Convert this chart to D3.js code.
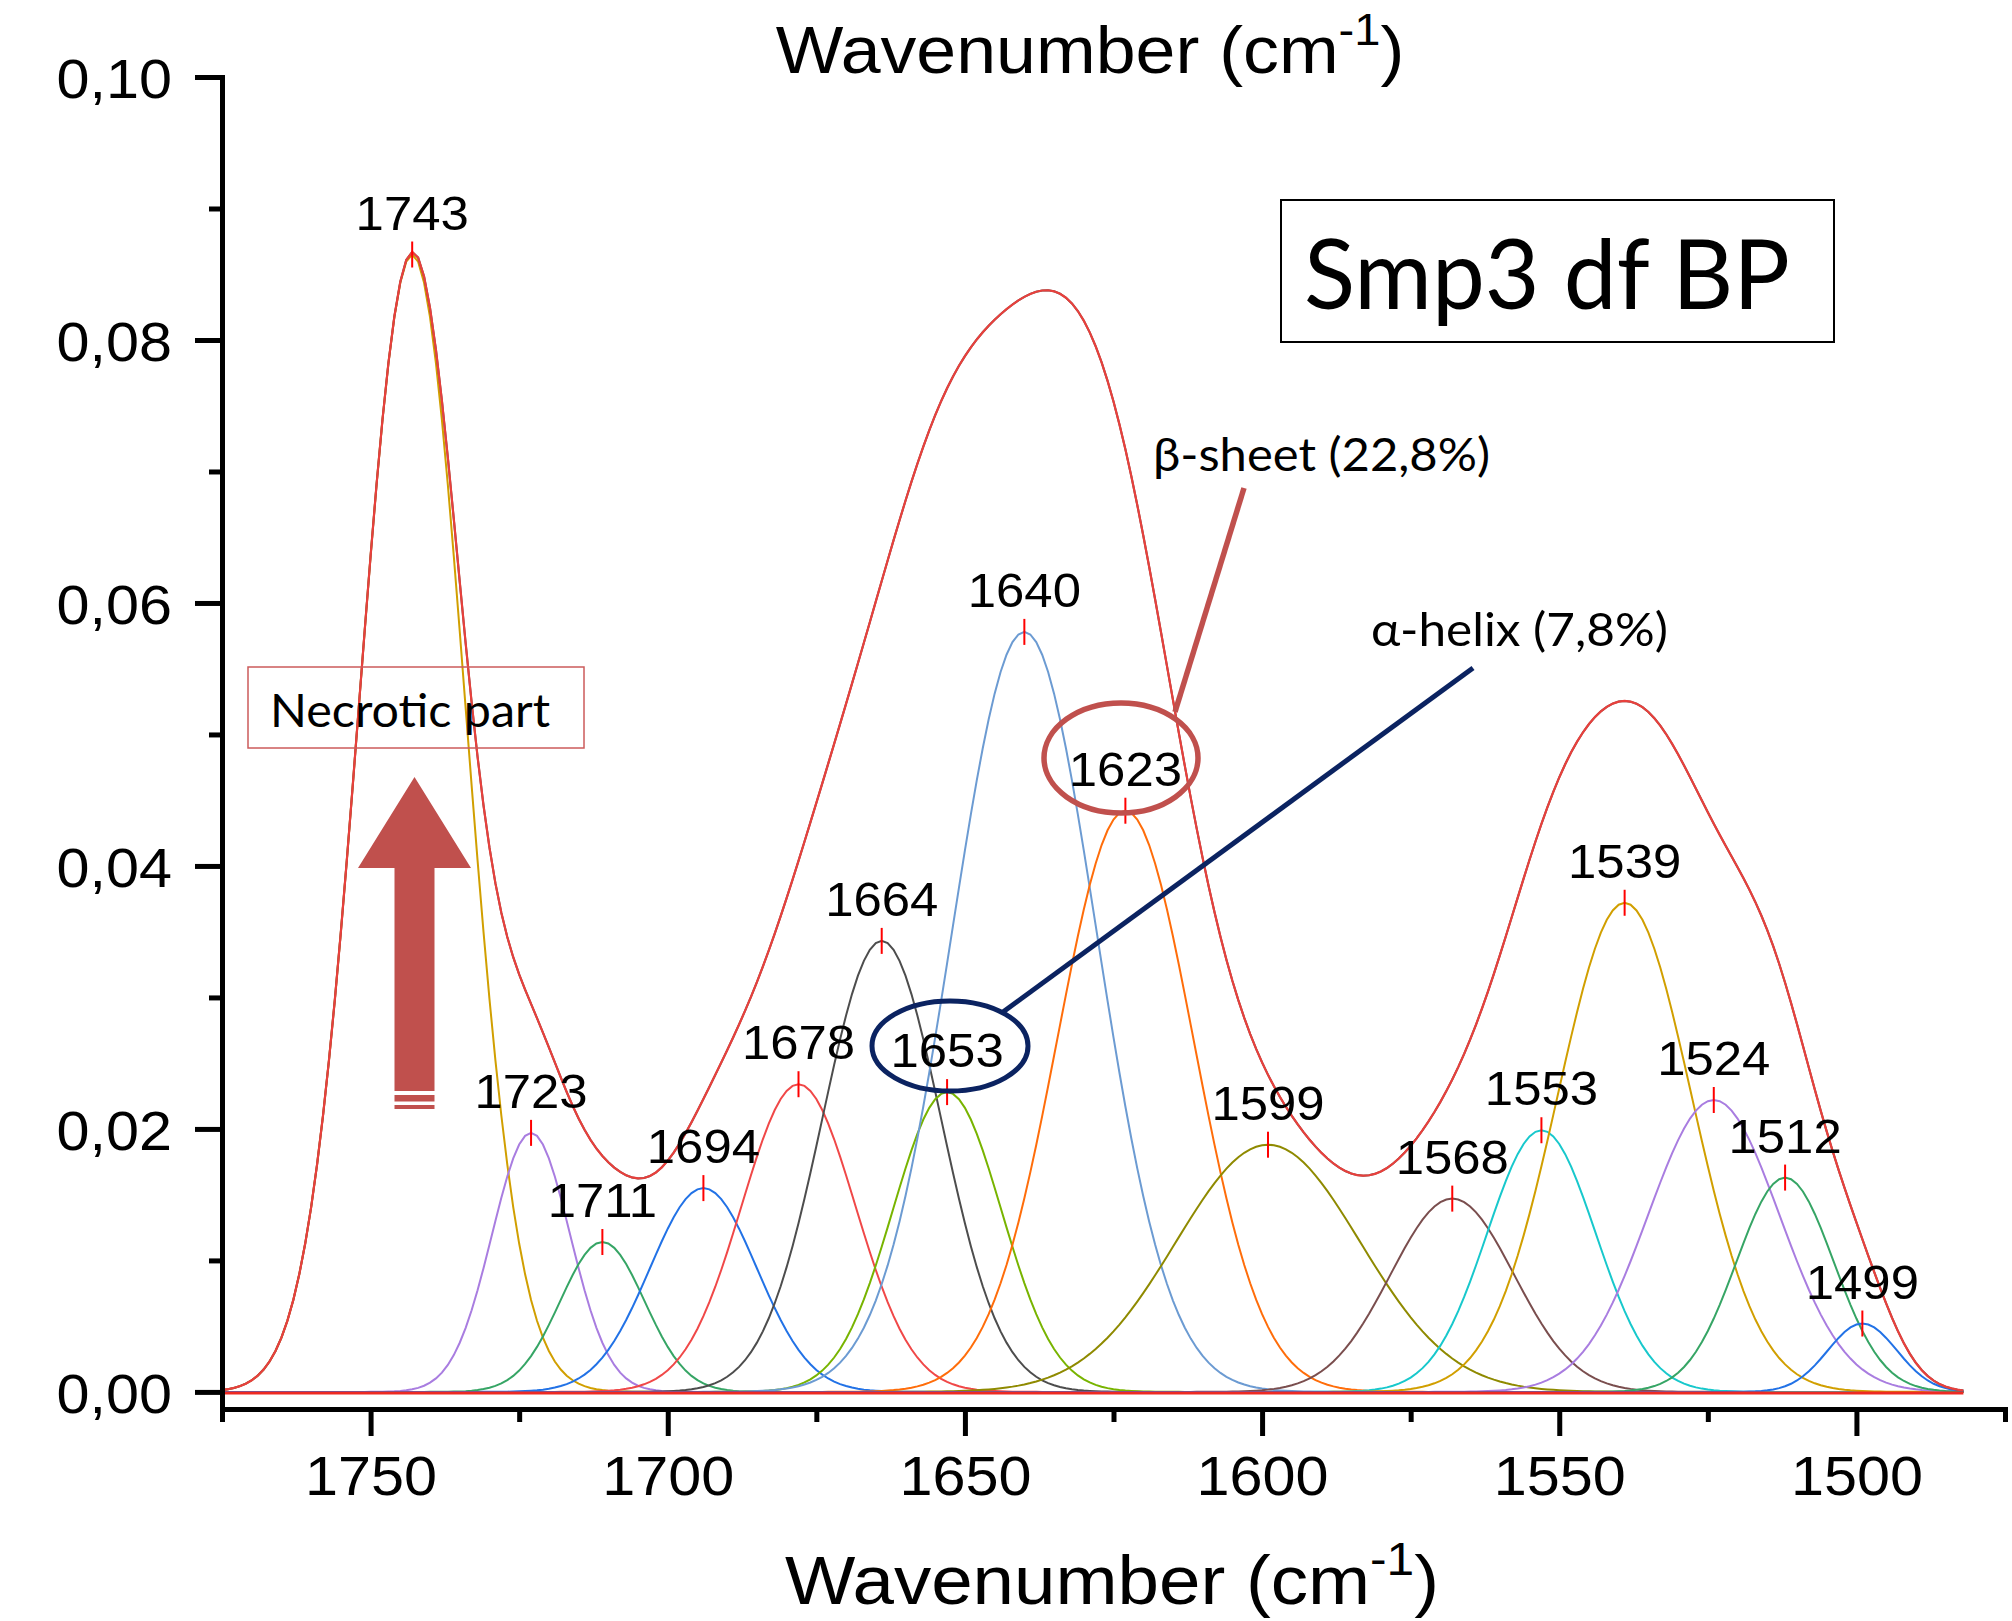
<!DOCTYPE html>
<html><head><meta charset="utf-8">
<script src="https://cdn.jsdelivr.net/npm/d3@7"></script>
<style>
html,body{margin:0;padding:0;background:#fff;}
svg{display:block;}
</style></head>
<body>
<svg id="chart" width="2012" height="1621"></svg>
<script>
// ---------- data ----------
const peakCenters = [1743, 1723, 1711, 1694, 1678, 1664, 1653, 1640, 1623, 1599, 1568, 1553, 1539, 1524, 1512, 1499];
const peakHeights = [0.0865, 0.0197, 0.0114, 0.0155, 0.0234, 0.0343, 0.0228, 0.0578, 0.0442, 0.0188, 0.0147, 0.0199, 0.0372, 0.0222, 0.0163, 0.0052];
const peakFWHM    = [21.0, 15.5, 16.7, 21.2, 22.5, 23.5, 21.5, 28.6, 27.0, 36.5, 24.5, 21.5, 26.5, 26.0, 19.3, 13.7];
const peakLabels  = ["1743","1723","1711","1694","1678","1664","1653","1640","1623","1599","1568","1553","1539","1524","1512","1499"];
const dataRange   = [1775, 1482];          // wavenumber span of the fitted curves
const xTicksMajor = [1750, 1700, 1650, 1600, 1550, 1500];
const xTicksMinor = [1775, 1725, 1675, 1625, 1575, 1525, 1475];
const yTicksMajor = [0, 0.02, 0.04, 0.06, 0.08, 0.10];
const yTicksMinor = [0.01, 0.03, 0.05, 0.07, 0.09];
const yTickLabels = ["0,00", "0,02", "0,04", "0,06", "0,08", "0,10"];
const axisTitle   = "Wavenumber (cm";
const sampleName  = "Smp3 df BP";
const noteBeta    = "β-sheet (22,8%)";
const noteAlpha   = "α-helix (7,8%)";
const noteNecro   = "Necrotic part";

// styles (not data)
const peakColors = ["#d19f00","#a97de0","#36a565","#2272e6","#f04848","#4d4d4d","#78b400","#6c9bd2",
                    "#ff6d0a","#8f8a00","#7a4e4e","#18c8cc","#d19f00","#a97de0","#36a565","#2272e6"];
const ARIAL = "'Liberation Sans', Arial, sans-serif";
const CALI = "Lato, 'Open Sans', sans-serif";
const annotRed = "#c0504d";
const annotNavy = "#0b2361";

// ---------- scales ----------
const svg = d3.select("#chart");
const x = d3.scaleLinear().domain([1775, 1475]).range([222, 2005]);
const y = d3.scaleLinear().domain([-0.0013, 0.10]).range([1409, 77]);

// Gaussian model from peak parameters
const wn = d3.range(dataRange[0], dataRange[1] - 0.01, -1);
function comp(i, v) {
  const s = peakFWHM[i] / 2.3548;
  return peakHeights[i] * Math.exp(-((v - peakCenters[i]) ** 2) / (2 * s * s));
}
const compData = peakCenters.map((c, i) => wn.map(v => [v, comp(i, v)]));
const sumData = wn.map(v => [v, d3.sum(peakCenters, (c, i) => comp(i, v))]);
const line = d3.line().x(d => x(d[0])).y(d => y(d[1]));

// ---------- curves ----------
const gCurves = svg.append("g");
compData.forEach((d, i) => {
  gCurves.append("path").attr("d", line(d)).attr("fill", "none")
    .attr("stroke", peakColors[i]).attr("stroke-width", 2);
});
gCurves.append("line")
  .attr("x1", x(dataRange[0])).attr("x2", x(dataRange[1]))
  .attr("y1", y(0) + 1).attr("y2", y(0) + 1)
  .attr("stroke", "#ee2a22").attr("stroke-width", 3);
gCurves.append("path").attr("d", line(sumData)).attr("fill", "none")
  .attr("stroke", "#555").attr("stroke-width", 2);
gCurves.append("path").attr("d", line(sumData)).attr("fill", "none")
  .attr("stroke", "#e8403c").attr("stroke-width", 2.2);

// peak markers + labels
peakCenters.forEach((c, i) => {
  const px = x(c), py = y(peakHeights[i]);
  svg.append("line").attr("x1", px).attr("x2", px).attr("y1", py - 13).attr("y2", py + 13)
    .attr("stroke", "#ff0000").attr("stroke-width", 2);
  svg.append("text").attr("transform", `translate(${px},${py - 25}) scale(1.06,1)`)
    .attr("text-anchor", "middle").style("font-family", ARIAL).style("font-size", "48px")
    .attr("fill", "#000").text(peakLabels[i]);
});

// ---------- axes ----------
const axStyle = g => {
  g.select(".domain").attr("stroke", "#000").attr("stroke-width", 5).attr("stroke-linecap", "square");
  g.selectAll(".tick line").attr("stroke", "#000").attr("stroke-width", 5);
};
const xMajor = svg.append("g").attr("transform", "translate(0,1409)")
  .call(d3.axisBottom(x).tickValues(xTicksMajor).tickSize(27).tickSizeOuter(0).tickFormat(d => d));
xMajor.call(axStyle);
xMajor.selectAll(".tick text").attr("y", 86).attr("dy", 0).attr("transform", "scale(1.06,1)")
  .style("font-family", ARIAL).style("font-size", "56px").attr("fill", "#000");
const xMinor = svg.append("g").attr("transform", "translate(0,1409)")
  .call(d3.axisBottom(x).tickValues(xTicksMinor).tickSize(13).tickSizeOuter(0).tickFormat(""));
xMinor.call(axStyle);

const yMajor = svg.append("g").attr("transform", "translate(222,0)")
  .call(d3.axisLeft(y).tickValues(yTicksMajor).tickSize(27).tickSizeOuter(0)
    .tickFormat((d, i) => yTickLabels[i]));
yMajor.call(axStyle);
yMajor.selectAll(".tick text").attr("x", -50 / 1.06).attr("dy", "0.36em").attr("transform", "scale(1.06,1)")
  .style("font-family", ARIAL).style("font-size", "56px").attr("fill", "#000");
const yMinor = svg.append("g").attr("transform", "translate(222,0)")
  .call(d3.axisLeft(y).tickValues(yTicksMinor).tickSize(13).tickSizeOuter(0).tickFormat(""));
yMinor.call(axStyle);

// axis titles (top and bottom)
function title(cx, by, size, sx) {
  const t = svg.append("text").attr("transform", `translate(${cx},${by}) scale(${sx},1)`)
    .attr("text-anchor", "middle").style("font-family", ARIAL).style("font-size", size + "px").attr("fill", "#000");
  t.append("tspan").text(axisTitle);
  t.append("tspan").style("font-size", Math.round(size * 0.66) + "px").attr("dy", -size * 0.42).text("-1");
  t.append("tspan").attr("dy", size * 0.42).text(")");
}
title(1090, 73, 67, 1.07);
title(1112, 1604, 69, 1.08);

// ---------- annotations ----------
// sample name box
svg.append("rect").attr("x", 1281).attr("y", 200).attr("width", 553).attr("height", 142)
  .attr("fill", "#fff").attr("stroke", "#000").attr("stroke-width", 2);
svg.append("text").attr("x", 1304).attr("y", 309).attr("textLength", 486).attr("lengthAdjust", "spacingAndGlyphs")
  .style("font-family", CALI).style("font-size", "96px").attr("fill", "#000").text(sampleName);

// necrotic part box
svg.append("rect").attr("x", 248).attr("y", 667).attr("width", 336).attr("height", 81)
  .attr("fill", "none").attr("stroke", "#cc5b5b").attr("stroke-width", 1.5);
svg.append("text").attr("x", 270).attr("y", 727).attr("textLength", 280).attr("lengthAdjust", "spacingAndGlyphs")
  .style("font-family", CALI).style("font-size", "46px").attr("fill", "#000").text(noteNecro);

// block arrow
const ax = 414.5;
svg.append("path")
  .attr("d", `M${ax},777 L${ax + 56.5},868 L${ax + 20},868 L${ax + 20},1091 L${ax - 20},1091 L${ax - 20},868 L${ax - 56.5},868 Z`)
  .attr("fill", annotRed);
svg.append("rect").attr("x", ax - 20).attr("y", 1095).attr("width", 40).attr("height", 6.5).attr("fill", annotRed);
svg.append("rect").attr("x", ax - 20).attr("y", 1105).attr("width", 40).attr("height", 4).attr("fill", annotRed);

// beta-sheet callout
svg.append("ellipse").attr("cx", 1121).attr("cy", 758).attr("rx", 77).attr("ry", 55)
  .attr("fill", "none").attr("stroke", annotRed).attr("stroke-width", 5.5);
svg.append("line").attr("x1", 1175).attr("y1", 712).attr("x2", 1244).attr("y2", 488)
  .attr("stroke", annotRed).attr("stroke-width", 5.5);
svg.append("text").attr("x", 1153).attr("y", 471).attr("textLength", 337).attr("lengthAdjust", "spacingAndGlyphs")
  .style("font-family", CALI).style("font-size", "47px").attr("fill", "#000").text(noteBeta);

// alpha-helix callout
svg.append("ellipse").attr("cx", 950).attr("cy", 1046).attr("rx", 78).attr("ry", 45)
  .attr("fill", "none").attr("stroke", annotNavy).attr("stroke-width", 5);
svg.append("line").attr("x1", 1003).attr("y1", 1012).attr("x2", 1473).attr("y2", 668)
  .attr("stroke", annotNavy).attr("stroke-width", 5);
svg.append("text").attr("x", 1371).attr("y", 646).attr("textLength", 297).attr("lengthAdjust", "spacingAndGlyphs")
  .style("font-family", CALI).style("font-size", "47px").attr("fill", "#000").text(noteAlpha);
</script>
</body></html>
